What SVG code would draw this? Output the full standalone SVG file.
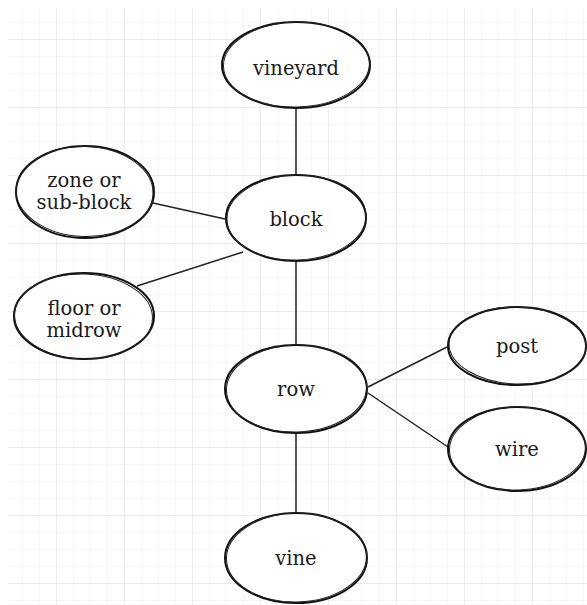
<svg xmlns="http://www.w3.org/2000/svg" width="587" height="605" viewBox="0 0 587 605">
<defs>
<pattern id="minor" x="6" y="6" width="17" height="17" patternUnits="userSpaceOnUse">
<path d="M17 0V17M0 17H17" fill="none" stroke="#eeeeee" stroke-width="1"/>
</pattern>
<pattern id="major" x="-11" y="-28" width="68" height="68" patternUnits="userSpaceOnUse">
<path d="M68 0V68M0 68H68" fill="none" stroke="#e0e0e0" stroke-width="1"/>
</pattern>
</defs>
<style>
.n1{fill:#fff;stroke:#111;stroke-width:2}
.n2{fill:none;stroke:#222;stroke-width:1}
.t{font-family:"DejaVu Serif","Liberation Serif",serif;font-size:19.5px;fill:#1a1a1a;text-anchor:middle}
.c{stroke:#222;stroke-width:1.5;fill:none}
</style>
<rect width="587" height="605" fill="#fff"/>
<rect x="8" y="8" width="579" height="597" fill="url(#minor)"/>
<rect x="8" y="8" width="579" height="597" fill="url(#major)"/>
<g id="connectors">
<line class="c" x1="296" y1="108" x2="296" y2="175"/>
<line class="c" x1="296" y1="261" x2="296" y2="345"/>
<line class="c" x1="296" y1="434" x2="296" y2="513"/>
<line class="c" x1="153" y1="203" x2="225" y2="219"/>
<line class="c" x1="137" y1="286" x2="243" y2="252"/>
<line class="c" x1="368" y1="387" x2="447" y2="347"/>
<line class="c" x1="368" y1="393" x2="448" y2="447"/>
</g>
<g id="vineyard">
<ellipse class="n1" cx="296" cy="65" rx="74" ry="43"/>
<ellipse class="n2" cx="296.5" cy="64.5" rx="73" ry="42.5" transform="rotate(-1.5 296 65)"/>
<text class="t" x="296" y="75">vineyard</text>
</g>
<g id="block">
<ellipse class="n1" cx="296" cy="218" rx="70" ry="43"/>
<ellipse class="n2" cx="296.5" cy="217.5" rx="69.5" ry="42.5" transform="rotate(-2 296 218)"/>
<text class="t" x="296" y="226">block</text>
</g>
<g id="zone">
<ellipse class="n1" cx="85" cy="192" rx="69" ry="46"/>
<ellipse class="n2" cx="84.5" cy="191.5" rx="68.5" ry="45" transform="rotate(2 85 192)"/>
<text class="t" x="84" y="187">zone or</text>
<text class="t" x="84" y="209">sub-block</text>
</g>
<g id="floor">
<ellipse class="n1" cx="84" cy="316" rx="70" ry="43"/>
<ellipse class="n2" cx="83.5" cy="316.5" rx="69" ry="42.5" transform="rotate(2 84 316)"/>
<text class="t" x="84" y="315">floor or</text>
<text class="t" x="84" y="337">midrow</text>
</g>
<g id="row">
<ellipse class="n1" cx="296" cy="389" rx="71" ry="44"/>
<ellipse class="n2" cx="296.5" cy="388.5" rx="70" ry="43.5" transform="rotate(-2 296 389)"/>
<text class="t" x="296" y="396">row</text>
</g>
<g id="post">
<ellipse class="n1" cx="517" cy="346" rx="69" ry="39"/>
<ellipse class="n2" cx="517.5" cy="345.5" rx="68.5" ry="38.5" transform="rotate(2 517 346)"/>
<text class="t" x="517" y="353">post</text>
</g>
<g id="wire">
<ellipse class="n1" cx="517" cy="449" rx="69" ry="42"/>
<ellipse class="n2" cx="517.5" cy="448.5" rx="68" ry="41.5" transform="rotate(-2 517 449)"/>
<text class="t" x="517" y="456">wire</text>
</g>
<g id="vine">
<ellipse class="n1" cx="296" cy="558" rx="71" ry="45"/>
<ellipse class="n2" cx="296.5" cy="557.5" rx="70" ry="44.5" transform="rotate(-1.5 296 558)"/>
<text class="t" x="296" y="565">vine</text>
</g>
</svg>
